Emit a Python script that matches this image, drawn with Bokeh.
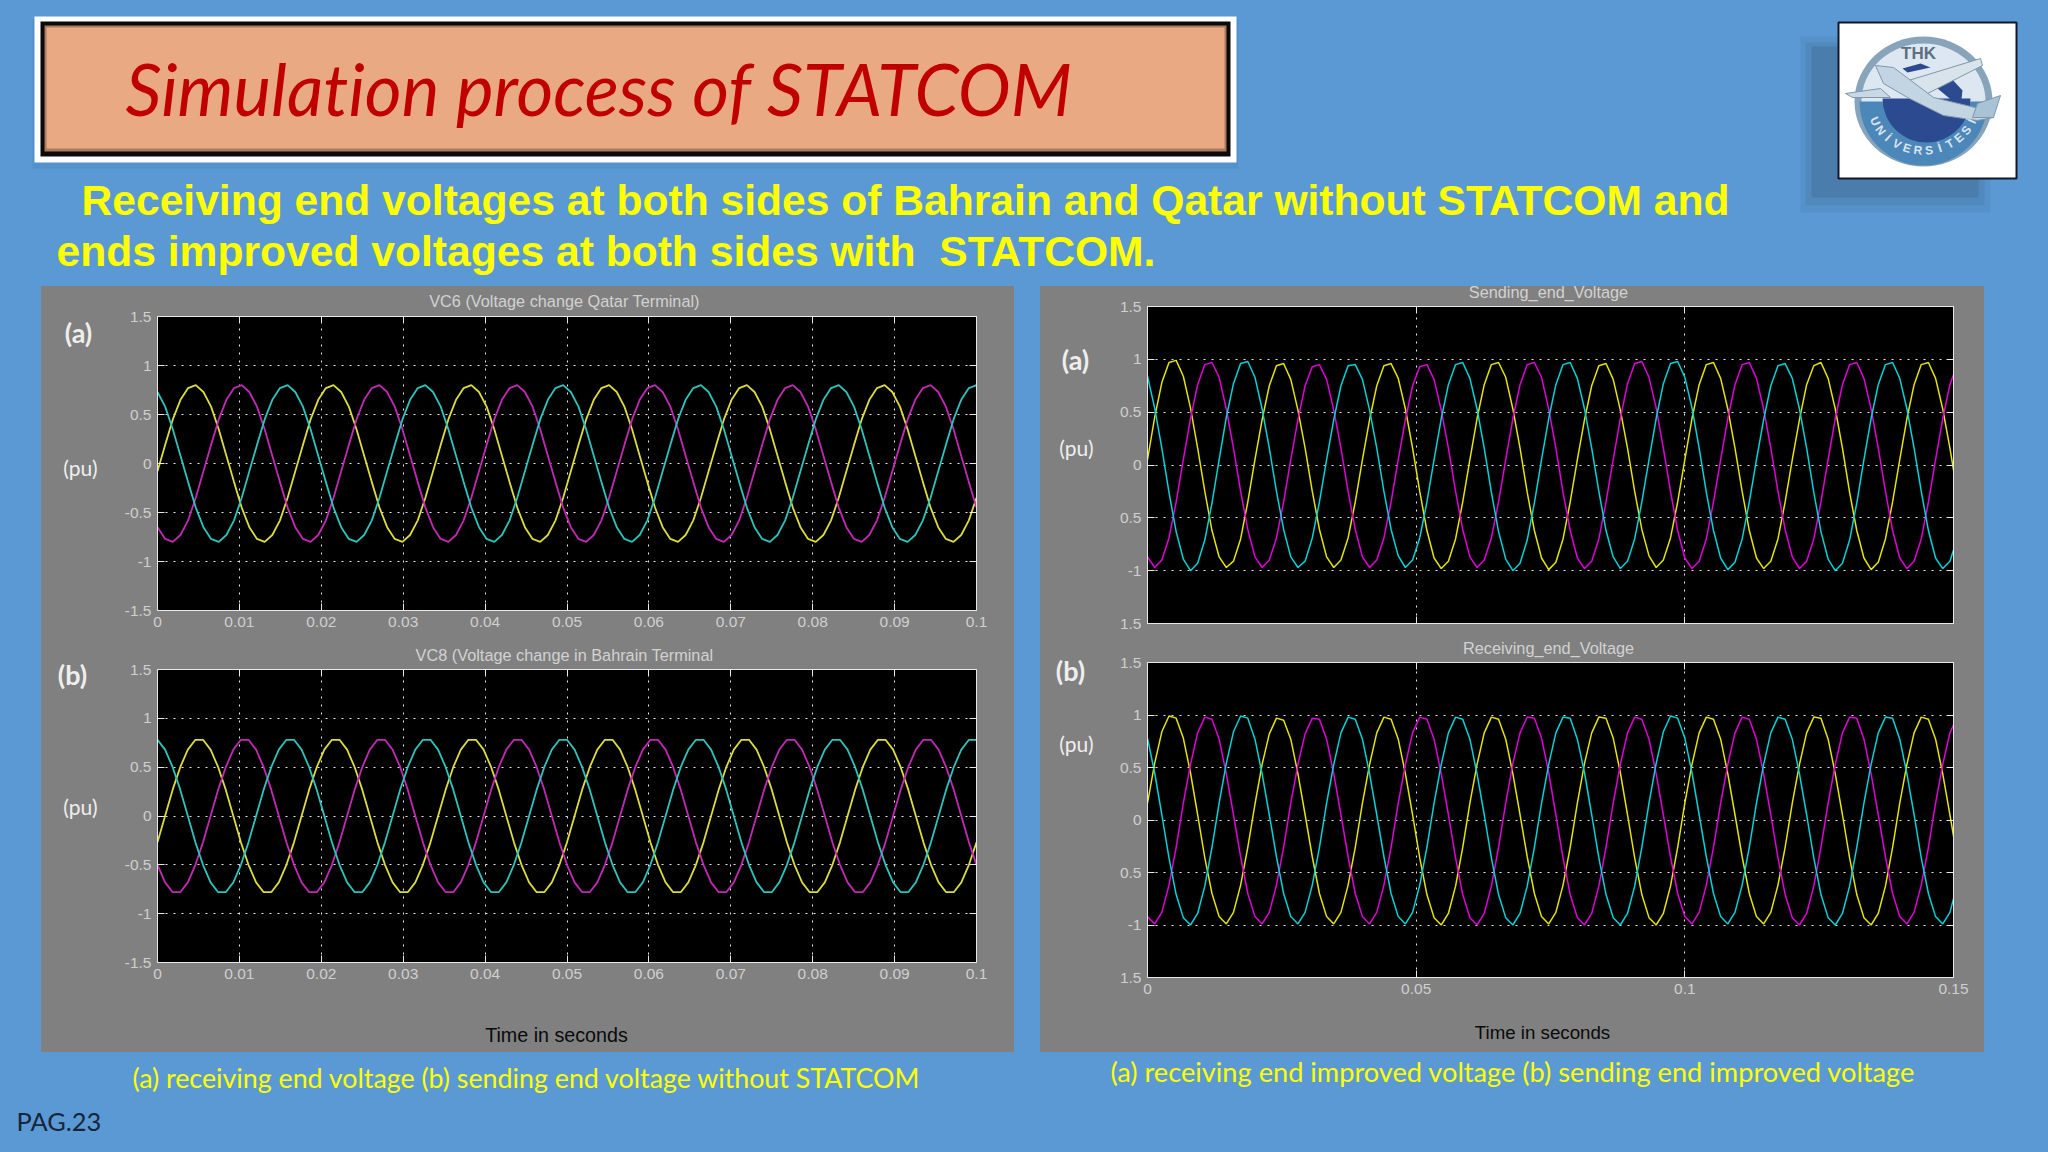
import math
from bokeh.core.properties import value
from bokeh.embed import file_html
from bokeh.layouts import column, row
from bokeh.models import FixedTicker, GlobalInlineStyleSheet, Grid, LinearAxis, Range1d, Spacer
from bokeh.plotting import figure
from bokeh.resources import INLINE

TITLE = "Simulation process of STATCOM"
SUB1 = "Receiving end voltages at both sides of Bahrain and Qatar without STATCOM and"
SUB2 = "ends improved voltages at both sides with \u00a0STATCOM."
CAP_L = "(a) receiving end voltage (b) sending end voltage without STATCOM"
CAP_R = "(a) receiving end improved voltage (b) sending end improved voltage"
PAGE = "PAG.23"

y_ticks = [-1.5, -1, -0.5, 0, 0.5, 1, 1.5]
y_labels_left = ["-1.5", "-1", "-0.5", "0", "0.5", "1", "1.5"]
y_labels_right = ["1.5", "-1", "0.5", "0", "0.5", "1", "1.5"]
x_ticks_left = [0, 0.01, 0.02, 0.03, 0.04, 0.05, 0.06, 0.07, 0.08, 0.09, 0.1]
x_labels_left = ["0", "0.01", "0.02", "0.03", "0.04", "0.05", "0.06", "0.07", "0.08", "0.09", "0.1"]
x_ticks_right = [0, 0.05, 0.1, 0.15]
x_labels_right = ["0", "0.05", "0.1", "0.15"]

# sample instants of the simulated traces
time_a = [i * 0.1 / 107 for i in range(108)]
time_b = [i * 0.1 / 108 for i in range(109)]
time_c = [i * 0.15 / 112.5 for i in range(114)]
time_d = [i * 0.15 / 112.5 for i in range(114)]

a_yellow = [
 -.08,.19,.45,.65,.77,.80,.73,.58,.35,.08,-.19,-.45,-.65,-.77,-.80,-.73,-.58,-.35,
 -.08,.19,.45,.65,.77,.80,.73,.58,.35,.08,-.19,-.45,-.65,-.77,-.80,-.73,-.58,-.35,
 -.08,.19,.45,.65,.77,.80,.73,.58,.35,.08,-.19,-.45,-.65,-.77,-.80,-.73,-.58,-.35,
 -.08,.19,.45,.65,.77,.80,.73,.58,.35,.08,-.19,-.45,-.65,-.77,-.80,-.73,-.58,-.35,
 -.08,.19,.45,.65,.77,.80,.73,.58,.35,.08,-.19,-.45,-.65,-.77,-.80,-.73,-.58,-.35,
 -.08,.19,.45,.65,.77,.80,.73,.58,.35,.08,-.19,-.45,-.65,-.77,-.80,-.73,-.58,-.35]
a_cyan = [
 .73,.58,.35,.08,-.19,-.45,-.65,-.77,-.80,-.73,-.58,-.35,-.08,.19,.45,.65,.77,.80,
 .73,.58,.35,.08,-.19,-.45,-.65,-.77,-.80,-.73,-.58,-.35,-.08,.19,.45,.65,.77,.80,
 .73,.58,.35,.08,-.19,-.45,-.65,-.77,-.80,-.73,-.58,-.35,-.08,.19,.45,.65,.77,.80,
 .73,.58,.35,.08,-.19,-.45,-.65,-.77,-.80,-.73,-.58,-.35,-.08,.19,.45,.65,.77,.80,
 .73,.58,.35,.08,-.19,-.45,-.65,-.77,-.80,-.73,-.58,-.35,-.08,.19,.45,.65,.77,.80,
 .73,.58,.35,.08,-.19,-.45,-.65,-.77,-.80,-.73,-.58,-.35,-.08,.19,.45,.65,.77,.80]
a_magenta = [
 -.65,-.77,-.80,-.73,-.58,-.35,-.08,.19,.45,.65,.77,.80,.73,.58,.35,.08,-.19,-.45,
 -.65,-.77,-.80,-.73,-.58,-.35,-.08,.19,.45,.65,.77,.80,.73,.58,.35,.08,-.19,-.45,
 -.65,-.77,-.80,-.73,-.58,-.35,-.08,.19,.45,.65,.77,.80,.73,.58,.35,.08,-.19,-.45,
 -.65,-.77,-.80,-.73,-.58,-.35,-.08,.19,.45,.65,.77,.80,.73,.58,.35,.08,-.19,-.45,
 -.65,-.77,-.80,-.73,-.58,-.35,-.08,.19,.45,.65,.77,.80,.73,.58,.35,.08,-.19,-.45,
 -.65,-.77,-.80,-.73,-.58,-.35,-.08,.19,.45,.65,.77,.80,.73,.58,.35,.08,-.19,-.45]

b_yellow = [
 -.27,0,.27,.50,.68,.78,.78,.68,.50,.27,0,-.27,-.50,-.68,-.78,-.78,-.68,-.50,
 -.27,0,.27,.50,.68,.78,.78,.68,.50,.27,0,-.27,-.50,-.68,-.78,-.78,-.68,-.50,
 -.27,0,.27,.50,.68,.78,.78,.68,.50,.27,0,-.27,-.50,-.68,-.78,-.78,-.68,-.50,
 -.27,0,.27,.50,.68,.78,.78,.68,.50,.27,0,-.27,-.50,-.68,-.78,-.78,-.68,-.50,
 -.27,0,.27,.50,.68,.78,.78,.68,.50,.27,0,-.27,-.50,-.68,-.78,-.78,-.68,-.50,
 -.27,0,.27,.50,.68,.78,.78,.68,.50,.27,0,-.27,-.50,-.68,-.78,-.78,-.68,-.50,-.27]
b_cyan = [
 .78,.68,.50,.27,0,-.27,-.50,-.68,-.78,-.78,-.68,-.50,-.27,0,.27,.50,.68,.78,
 .78,.68,.50,.27,0,-.27,-.50,-.68,-.78,-.78,-.68,-.50,-.27,0,.27,.50,.68,.78,
 .78,.68,.50,.27,0,-.27,-.50,-.68,-.78,-.78,-.68,-.50,-.27,0,.27,.50,.68,.78,
 .78,.68,.50,.27,0,-.27,-.50,-.68,-.78,-.78,-.68,-.50,-.27,0,.27,.50,.68,.78,
 .78,.68,.50,.27,0,-.27,-.50,-.68,-.78,-.78,-.68,-.50,-.27,0,.27,.50,.68,.78,
 .78,.68,.50,.27,0,-.27,-.50,-.68,-.78,-.78,-.68,-.50,-.27,0,.27,.50,.68,.78,.78]
b_magenta = [
 -.50,-.68,-.78,-.78,-.68,-.50,-.27,0,.27,.50,.68,.78,.78,.68,.50,.27,0,-.27,
 -.50,-.68,-.78,-.78,-.68,-.50,-.27,0,.27,.50,.68,.78,.78,.68,.50,.27,0,-.27,
 -.50,-.68,-.78,-.78,-.68,-.50,-.27,0,.27,.50,.68,.78,.78,.68,.50,.27,0,-.27,
 -.50,-.68,-.78,-.78,-.68,-.50,-.27,0,.27,.50,.68,.78,.78,.68,.50,.27,0,-.27,
 -.50,-.68,-.78,-.78,-.68,-.50,-.27,0,.27,.50,.68,.78,.78,.68,.50,.27,0,-.27,
 -.50,-.68,-.78,-.78,-.68,-.50,-.27,0,.27,.50,.68,.78,.78,.68,.50,.27,0,-.27,-.50]

c_yellow = [
 .05,.45,.78,.97,.99,.84,.54,.16,-.25,-.62,-.87,-.97,-.91,-.70,-.35,
 .05,.43,.75,.94,.96,.81,.52,.16,-.25,-.61,-.87,-.97,-.90,-.69,-.35,
 .05,.43,.75,.94,.96,.82,.53,.16,-.25,-.62,-.88,-.98,-.91,-.70,-.35,
 .05,.44,.76,.95,.97,.83,.53,.16,-.26,-.62,-.88,-.99,-.92,-.70,-.35,
 .05,.43,.75,.94,.96,.81,.52,.16,-.25,-.61,-.86,-.97,-.90,-.69,-.35,
 .05,.44,.76,.95,.97,.82,.53,.16,-.25,-.62,-.88,-.98,-.91,-.70,-.35,
 .05,.43,.76,.94,.97,.82,.53,.16,-.26,-.62,-.88,-.99,-.92,-.70,-.35,
 .05,.44,.76,.95,.97,.82,.53,.16,-.25]
c_cyan = [
 .84,.54,.16,-.26,-.63,-.89,-1.00,-.93,-.71,-.36,.05,.45,.77,.96,.98,
 .83,.53,.16,-.25,-.61,-.87,-.97,-.91,-.69,-.35,.05,.43,.75,.94,.95,
 .81,.52,.16,-.25,-.61,-.86,-.97,-.90,-.69,-.35,.05,.44,.76,.95,.97,
 .82,.53,.16,-.26,-.63,-.89,-1.00,-.93,-.71,-.36,.05,.44,.76,.95,.97,
 .82,.53,.16,-.25,-.62,-.87,-.98,-.91,-.70,-.35,.05,.44,.77,.96,.98,
 .83,.54,.16,-.26,-.62,-.88,-.99,-.92,-.70,-.35,.05,.43,.75,.94,.96,
 .82,.53,.16,-.26,-.63,-.89,-1.00,-.93,-.71,-.36,.05,.44,.76,.95,.97,
 .82,.53,.16,-.25,-.62,-.88,-.98,-.91,-.70]
c_magenta = [
 -.87,-.97,-.90,-.69,-.35,.05,.44,.76,.95,.97,.83,.53,.16,-.25,-.61,
 -.87,-.97,-.90,-.69,-.35,.05,.43,.75,.93,.95,.81,.52,.16,-.25,-.61,
 -.87,-.97,-.90,-.69,-.35,.05,.43,.75,.93,.95,.81,.52,.16,-.25,-.61,
 -.87,-.97,-.90,-.69,-.35,.05,.44,.76,.95,.97,.83,.53,.16,-.26,-.62,
 -.88,-.98,-.91,-.70,-.35,.05,.44,.77,.96,.98,.83,.54,.16,-.25,-.62,
 -.88,-.98,-.91,-.70,-.35,.05,.44,.76,.95,.97,.82,.53,.16,-.25,-.61,
 -.87,-.98,-.91,-.70,-.35,.05,.44,.76,.95,.97,.82,.53,.16,-.25,-.62,
 -.88,-.98,-.91,-.70,-.35,.05,.44,.76,.95]

d_yellow = [
 .16,.54,.84,.99,.97,.78,.45,.05,-.36,-.70,-.92,-.99,-.88,-.62,-.26,
 .15,.53,.82,.97,.95,.77,.44,.05,-.35,-.70,-.92,-.99,-.88,-.62,-.26,
 .16,.53,.83,.98,.96,.77,.44,.05,-.36,-.71,-.93,-1.00,-.89,-.63,-.26,
 .16,.53,.83,.98,.96,.77,.44,.05,-.35,-.70,-.92,-.99,-.88,-.62,-.26,
 .16,.54,.83,.98,.97,.78,.45,.05,-.36,-.71,-.93,-1.00,-.89,-.63,-.26,
 .16,.53,.83,.98,.96,.77,.44,.05,-.35,-.70,-.92,-.99,-.88,-.62,-.26,
 .16,.53,.83,.98,.97,.77,.44,.05,-.36,-.71,-.93,-1.00,-.89,-.63,-.26,
 .16,.53,.83,.98,.96,.77,.44,.05,-.35]
d_cyan = [
 .78,.45,.05,-.36,-.71,-.93,-1.00,-.89,-.63,-.26,.16,.54,.84,.99,.97,
 .77,.44,.05,-.35,-.70,-.92,-.99,-.88,-.62,-.26,.16,.53,.83,.98,.96,
 .77,.44,.05,-.35,-.70,-.92,-.99,-.88,-.62,-.26,.16,.53,.83,.98,.96,
 .77,.44,.05,-.36,-.71,-.93,-1.00,-.89,-.63,-.26,.16,.53,.83,.98,.97,
 .77,.45,.05,-.36,-.71,-.93,-1.00,-.89,-.63,-.26,.16,.54,.84,.99,.97,
 .78,.45,.05,-.35,-.70,-.92,-.99,-.88,-.62,-.26,.16,.53,.83,.98,.96,
 .77,.44,.05,-.36,-.71,-.93,-1.00,-.89,-.63,-.26,.16,.53,.83,.98,.97,
 .77,.44,.05,-.36,-.70,-.92,-.99,-.88,-.62]
d_magenta = [
 -.92,-.99,-.88,-.62,-.26,.16,.53,.83,.98,.96,.77,.44,.05,-.35,-.70,
 -.92,-.99,-.88,-.62,-.26,.16,.53,.82,.97,.96,.77,.44,.05,-.35,-.70,
 -.92,-.99,-.88,-.62,-.26,.16,.53,.83,.98,.96,.77,.44,.05,-.36,-.71,
 -.93,-1.00,-.89,-.63,-.26,.16,.54,.83,.98,.97,.78,.45,.05,-.36,-.71,
 -.93,-1.00,-.89,-.63,-.26,.16,.53,.83,.98,.96,.77,.44,.05,-.35,-.70,
 -.92,-.99,-.88,-.62,-.26,.16,.53,.83,.98,.96,.77,.44,.05,-.36,-.71,
 -.93,-1.00,-.89,-.63,-.26,.16,.53,.83,.98,.97,.77,.44,.05,-.35,-.70,
 -.92,-.99,-.88,-.62,-.26,.16,.53,.83,.98]

BLUE = "#5b99d4"
GREY = "#808080"
TICK = "#cfcfcf"
SANS = "Liberation Sans"
SLIDE = "Lato"


def panel(fig_left, fig_top, width, height, frame, x_end, x_ticks, x_labels, y_labels,
          series, colours, line_width, show_x=True):
    fl, ft, fr, fb = frame
    p = figure(width=width, height=height, x_range=Range1d(0, x_end), y_range=Range1d(-1.5, 1.5),
               toolbar_location=None, output_backend="svg", tools="",
               background_fill_color="#000000", border_fill_color=GREY,
               min_border_left=fl - fig_left, min_border_right=fig_left + width - fr,
               min_border_top=ft - fig_top, min_border_bottom=fig_top + height - fb,
               outline_line_color="#e8e8e8", x_axis_location=None, y_axis_location=None)
    p.grid.visible = False
    x_over = {t: l for t, l in zip(x_ticks, x_labels)} if show_x else {t: "" for t in x_ticks}
    y_over = {t: l for t, l in zip(y_ticks, y_labels)}
    axes = [
        (LinearAxis(ticker=FixedTicker(ticks=x_ticks), major_label_overrides=x_over), "below"),
        (LinearAxis(ticker=FixedTicker(ticks=y_ticks), major_label_overrides=y_over), "left"),
        (LinearAxis(ticker=FixedTicker(ticks=x_ticks), major_label_overrides={t: "" for t in x_ticks}), "above"),
        (LinearAxis(ticker=FixedTicker(ticks=y_ticks), major_label_overrides={t: "" for t in y_ticks}), "right"),
    ]
    for ax, side in axes:
        ax.axis_line_color = "#e8e8e8"
        ax.major_tick_line_color = "#e8e8e8"
        ax.major_tick_in = 7
        ax.major_tick_out = 0
        ax.minor_tick_line_color = None
        ax.major_label_text_color = TICK
        ax.major_label_text_font = SANS
        ax.major_label_text_font_size = "15.5px"
        ax.major_label_standoff = 6 if side in ("below", "left") else 0
        p.add_layout(ax, side)
    p.add_layout(Grid(dimension=0, ticker=FixedTicker(ticks=x_ticks), grid_line_color="#e8e8e8",
                      grid_line_dash="2 6", grid_line_width=1))
    p.add_layout(Grid(dimension=1, ticker=FixedTicker(ticks=y_ticks), grid_line_color="#e8e8e8",
                      grid_line_dash="2 6", grid_line_width=1))
    for (t, y), c in zip(series, colours):
        p.line(t, y, line_color=c, line_width=line_width)
    return p


LEFT_COL = ["#dcdc3c", "#c22ab4", "#2cc4bc"]
RIGHT_COL = ["#e4e400", "#e000d8", "#00d4d8"]

pa = panel(41, 286, 973, 354, (157, 316, 976, 610), 0.1, x_ticks_left, x_labels_left, y_labels_left,
           [(time_a, a_yellow), (time_a, a_magenta), (time_a, a_cyan)], LEFT_COL, 1.8)
pb = panel(41, 640, 973, 412, (157, 669, 976, 962), 0.1, x_ticks_left, x_labels_left, y_labels_left,
           [(time_b, b_yellow), (time_b, b_magenta), (time_b, b_cyan)], LEFT_COL, 1.8)
pc = panel(1040, 286, 944, 354, (1147, 306, 1953, 623), 0.15, x_ticks_right, x_labels_right, y_labels_right,
           [(time_c, c_yellow), (time_c, c_magenta), (time_c, c_cyan)], RIGHT_COL, 1.5, show_x=False)
pd = panel(1040, 640, 944, 412, (1147, 662, 1953, 977), 0.15, x_ticks_right, x_labels_right, y_labels_right,
           [(time_d, d_yellow), (time_d, d_magenta), (time_d, d_cyan)], RIGHT_COL, 1.5)


def slide_strip(top, height, fill=BLUE):
    s = figure(width=2048, height=height, x_range=Range1d(0, 2048), y_range=Range1d(top + height, top),
               toolbar_location=None, output_backend="svg", tools="", min_border=0,
               background_fill_color=fill, border_fill_color=fill, outline_line_color=None,
               x_axis_location=None, y_axis_location=None)
    s.grid.visible = False
    return s


head = slide_strip(0, 286)
head.quad(left=[32], right=[1238], top=[19], bottom=[168], fill_color="#4f8cc6", line_color=None, alpha=0.6)
head.quad(left=[34], right=[1236], top=[16], bottom=[162], fill_color="#ffffff", line_color=None)
head.quad(left=[40], right=[1230], top=[21], bottom=[156], fill_color="#0a0a0a", line_color=None)
head.quad(left=[44], right=[1226], top=[25], bottom=[151], fill_color="#a97a5c", line_color=None)
head.quad(left=[46], right=[1224], top=[27], bottom=[148], fill_color="#e9a983", line_color=None)
head.text(x=[125], y=[88], text=[TITLE], text_color="#c00000", text_font=value(SLIDE), text_font_style="italic",
          text_font_size="71px", text_baseline="alphabetic")
head.text(x=[81], y=[199], text=[SUB1], text_color="#ffff00", text_font=value(SANS), text_font_style="bold",
          text_font_size="42.6px", text_baseline="alphabetic")
head.text(x=[56], y=[250], text=[SUB2], text_color="#ffff00", text_font=value(SANS), text_font_style="bold",
          text_font_size="42.6px", text_baseline="alphabetic")

# logo
head.quad(left=[1800], right=[1990], top=[36], bottom=[212], fill_color="#4d80b0", line_color=None, alpha=0.3)
head.quad(left=[1805], right=[1984], top=[42], bottom=[205], fill_color="#4d80b0", line_color=None, alpha=0.45)
head.quad(left=[1811], right=[1978], top=[46], bottom=[197], fill_color="#44719e", line_color=None, alpha=0.55)
head.quad(left=[1838], right=[2016], top=[22], bottom=[178], fill_color="#ffffff", line_color="#101828", line_width=2)
head.ellipse(x=[1923], y=[101], width=[138], height=[130], fill_color="#87a4bb", line_color=None)
head.ellipse(x=[1923], y=[101], width=[124], height=[116], fill_color="#dde7f1", line_color=None)
head.wedge(x=[1923], y=[101], radius=[64], start_angle=[math.pi], end_angle=[2 * math.pi], fill_color="#4b87b9", line_color=None)
head.wedge(x=[1926], y=[98], radius=[44], start_angle=[math.pi], end_angle=[2 * math.pi], fill_color="#2c4a8f", line_color=None)
head.patch([1902, 1920, 1930, 1907], [68, 63, 67, 72], fill_color="#2c4a8f", line_color=None)
head.patch([1937, 1950, 1962, 1960], [88, 77, 90, 107], fill_color="#2c4a8f", line_color=None)
head.patch([1845, 1880, 1890, 1852], [93, 88, 97, 97], fill_color="#c8d8e4", line_color="#7d98ac")
head.patch([1908, 1980, 1982, 1927], [80, 58, 65, 93], fill_color="#d9e3eb", line_color="#7d98ac")
head.patch([1875, 1893, 1933, 1987, 1993, 1977, 1943, 1907, 1883], [65, 67, 97, 110, 117, 120, 115, 97, 83],
           fill_color="#c3d5e3", line_color="#7d98ac")
head.patch([1977, 2000, 1993, 1972], [103, 95, 117, 117], fill_color="#a9c3d6", line_color="#7d98ac")
head.text(x=[1918], y=[53], text=["THK"], text_color="#5d6f80", text_font=value(SANS), text_font_style="bold",
          text_font_size="17px", text_align="center", text_baseline="middle")
arc_word = "UNİVERSİTESİ"
for i, ch in enumerate(arc_word):
    th = math.radians(-66 + i * 132 / (len(arc_word) - 1))
    head.text(x=[1923 + 53 * math.sin(th)], y=[101 + 49 * math.cos(th)], text=[ch], angle=[th], text_color="#dbe5ee",
              text_font=value(SANS), text_font_style="bold", text_font_size="12px",
              text_align="center", text_baseline="middle")

foot = slide_strip(1052, 100)
foot.text(x=[132], y=[1077], text=[CAP_L], text_color="#ffff00", text_font=value(SLIDE), text_font_size="26.8px",
          text_baseline="alphabetic")
foot.text(x=[1110], y=[1071], text=[CAP_R], text_color="#ffff00", text_font=value(SLIDE), text_font_size="27.2px",
          text_baseline="alphabetic")
foot.text(x=[16], y=[1120], text=[PAGE], text_color="#16263a", text_font=value(SLIDE), text_font_size="25.4px",
          text_baseline="alphabetic")

# transparent sheet over the whole slide for the texts of the grey panels
sheet = figure(width=2048, height=1152, x_range=Range1d(0, 2048), y_range=Range1d(1152, 0),
               toolbar_location=None, output_backend="svg", tools="", min_border=0,
               background_fill_color=None, border_fill_color=None, outline_line_color=None,
               x_axis_location=None, y_axis_location=None,
               styles={"position": "absolute", "left": "0", "top": "0", "z-index": "10", "pointer-events": "none"})
sheet.grid.visible = False


def put(txt, cx, cy, size, colour, font=SANS, style="normal"):
    sheet.text(x=[cx], y=[cy], text=[txt], text_align="center", text_baseline="middle",
               text_font=value(font), text_font_size=size, text_color=colour, text_font_style=style)


for txt, cx, cy in [("VC6 (Voltage change Qatar Terminal)", 564, 300),
                    ("VC8 (Voltage change in Bahrain Terminal", 564, 654),
                    ("Sending_end_Voltage", 1548, 291),
                    ("Receiving_end_Voltage", 1548, 647)]:
    put(txt, cx, cy, "16.3px", "#d2d2d2")
for txt, cx, cy in [("(a)", 78, 332), ("(b)", 72, 674), ("(a)", 1075, 359), ("(b)", 1070, 670)]:
    put(txt, cx, cy, "27px", "#eeeeee", SLIDE, "bold")
for cx, cy in [(80, 467), (80, 806), (1076, 447), (1076, 743)]:
    put("(pu)", cx, cy, "21px", "#eeeeee", SLIDE, "normal")
put("Time in seconds", 556, 1034, "19.7px", "#0a0a0a")
put("Time in seconds", 1542, 1032, "18.7px", "#0a0a0a")

body = row(Spacer(width=41, height=766), column(pa, pb, spacing=0, styles={"background-color": GREY}),
           Spacer(width=26, height=766), column(pc, pd, spacing=0, styles={"background-color": GREY}), spacing=0)
page = column(sheet, head, body, foot, spacing=0)
page.stylesheets = [GlobalInlineStyleSheet(
    css=f"html,body{{margin:0;padding:0;overflow:hidden;background:{BLUE};font-variant-ligatures:none;}}")]

open("out.html", "w").write(file_html(page, INLINE))
